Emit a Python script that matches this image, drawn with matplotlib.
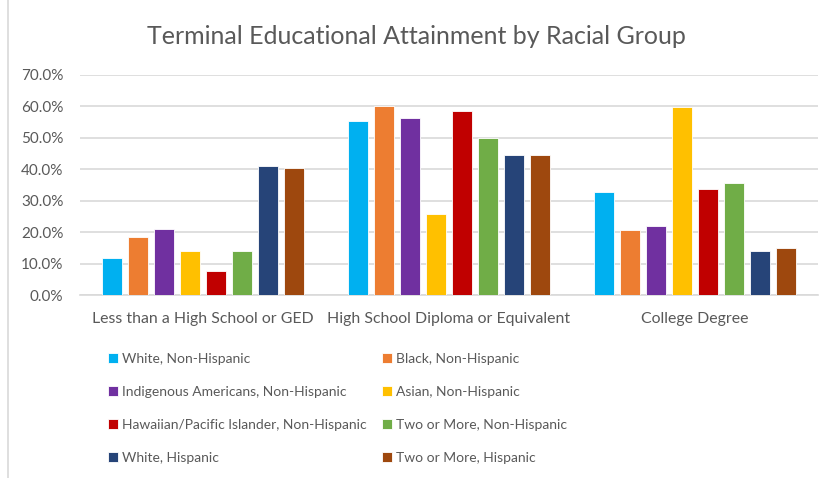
import matplotlib.pyplot as plt
import numpy as np
from matplotlib.lines import Line2D
from matplotlib.ticker import PercentFormatter

plt.rcParams['font.family'] = ['Lato', 'DejaVu Sans']

# Data
categories = ["Less than a High School or GED", "High School Diploma or Equivalent", "College Degree"]
groups = ["White, Non-Hispanic", "Black, Non-Hispanic", "Indigenous Americans, Non-Hispanic",
          "Asian, Non-Hispanic", "Hawaiian/Pacific Islander, Non-Hispanic",
          "Two or More, Non-Hispanic", "White, Hispanic", "Two or More, Hispanic"]
white_nh = [11.7, 55.4, 32.7]
black_nh = [18.5, 60.1, 20.8]
indigenous_nh = [21.1, 56.3, 22.1]
asian_nh = [14.1, 25.9, 59.6]
hawaiian_nh = [7.6, 58.4, 33.6]
two_more_nh = [14.1, 49.8, 35.6]
white_h = [41.0, 44.5, 14.1]
two_more_h = [40.4, 44.5, 14.9]
series = [white_nh, black_nh, indigenous_nh, asian_nh, hawaiian_nh, two_more_nh, white_h, two_more_h]
colors = ["#00B0F0", "#ED7D31", "#7030A0", "#FFC000", "#C00000", "#70AD47", "#264478", "#9E480E"]
yticks = [0, 10, 20, 30, 40, 50, 60, 70]

fig = plt.figure(figsize=(8.33, 4.78), dpi=100)
ax = fig.add_axes([80 / 833, 1 - 295.3 / 478, 738 / 833, 220.6 / 478])

x = np.arange(len(categories))
step = 0.1053
width = 0.082
bars = []
for i, (vals, col) in enumerate(zip(series, colors)):
    b = ax.bar(x + (i - 3.5) * step, vals, width, color=col, edgecolor='white', linewidth=0.6,
               label=groups[i], zorder=3)
    bars.append(b)

ax.set_xlim(-0.5, 2.5)
ax.set_ylim(0, 70)
ax.set_yticks(yticks)
ax.yaxis.set_major_formatter(PercentFormatter(decimals=1))
ax.set_xticks(x)
ax.set_xticklabels(categories)
ax.tick_params(axis='both', length=0, colors='#595959')
ax.tick_params(axis='y', pad=12, labelsize=11)
ax.tick_params(axis='x', pad=12, labelsize=11.4)
ax.grid(axis='y', color='#D9D9D9', linewidth=1.2, zorder=0)
for s in ['top', 'right', 'left']:
    ax.spines[s].set_visible(False)
ax.spines['bottom'].set_color('#D9D9D9')
ax.spines['bottom'].set_linewidth(1.2)

fig.suptitle("Terminal Educational Attainment by Racial Group", y=1 - 37 / 478, va='center',
             fontsize=18, color='#595959')

order = [0, 2, 4, 6, 1, 3, 5, 7]
handles = [bars[i] for i in order]
labels = [groups[i] for i in order]
leg = fig.legend(handles, labels, ncol=2, loc='upper left', bbox_to_anchor=(108 / 833, 1 - 353 / 478),
                 frameon=False, fontsize=10, handlelength=0.7, handleheight=0.7, handletextpad=0.3,
                 columnspacing=1.15, labelspacing=1.5, borderaxespad=0, borderpad=0)
for t in leg.get_texts():
    t.set_color('#595959')

# chart border on the left
fig.add_artist(Line2D([8 / 833, 8 / 833], [0, 1], transform=fig.transFigure, color='#D9D9D9', linewidth=1.2))

fig.savefig("out.png", dpi=100)
